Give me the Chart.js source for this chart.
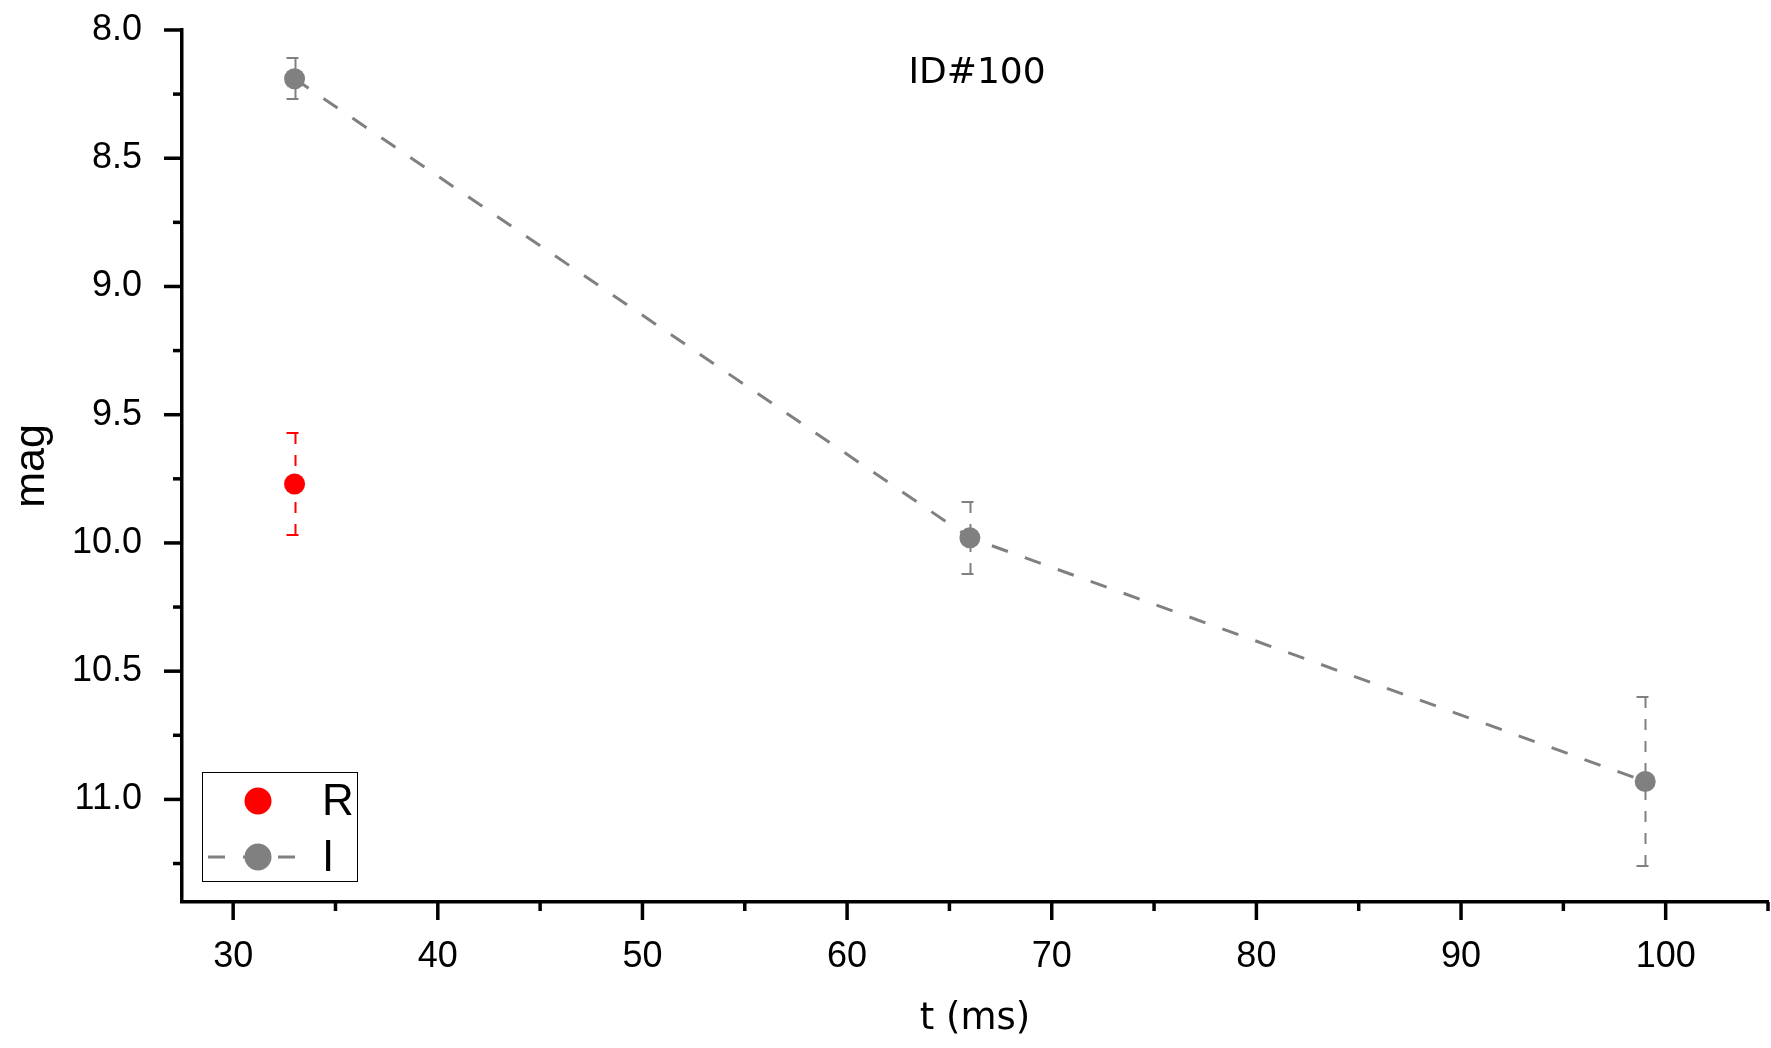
<!DOCTYPE html>
<html>
<head>
<meta charset="utf-8">
<script src="https://cdn.jsdelivr.net/npm/chart.js@4.4.0/dist/chart.umd.min.js"></script>
<style>
html, body { margin: 0; padding: 0; background: #fff; overflow: hidden; }
#wrap { width: 1771px; height: 1048px; position: relative; }
#myChart { display: block; }
</style>
</head>
<body>
<div id="wrap"><canvas id="myChart"></canvas></div>
<script>
// data
var tR = [33];
var magR = [9.77];
var errR = [0.20];

var tI = [33, 66, 99];
var magI = [8.19, 9.98, 10.93];
var errI = [0.08, 0.14, 0.33];

var xMajor = [30, 40, 50, 60, 70, 80, 90, 100];
var xMinor = [35, 45, 55, 65, 75, 85, 95, 105];
var yMajor = [8.0, 8.5, 9.0, 9.5, 10.0, 10.5, 11.0];
var yMinor = [8.25, 8.75, 9.25, 9.75, 10.25, 10.75, 11.25];

var ARIAL = "'Liberation Sans', Arial, sans-serif";
var WIDE = "'DejaVu Sans', Verdana, sans-serif";

function toPoints(xs, ys) {
    return xs.map((x, i) => ({ x: x, y: ys[i] }));
}

// dashed error bars with small caps, drawn under the markers
var errorBars = {
    id: 'errorBars',
    beforeDatasetsDraw(chart) {
        var ctx = chart.ctx;
        var xs = chart.scales.x, ys = chart.scales.y;
        chart.data.datasets.forEach(function (ds) {
            ctx.save();
            ctx.strokeStyle = ds.borderColor;
            ctx.lineWidth = 2;
            ds.data.forEach(function (p, i) {
                var e = ds.errors[i];
                var px = Math.round(xs.getPixelForValue(p.x)) + 0.5;
                var py = ys.getPixelForValue(p.y);
                [p.y - e, p.y + e].forEach(function (v) {
                    var ey = Math.round(ys.getPixelForValue(v));
                    ctx.setLineDash([11, 11]);
                    ctx.beginPath();
                    ctx.moveTo(px, ey);
                    ctx.lineTo(px, py);
                    ctx.stroke();
                    ctx.setLineDash([]);
                    ctx.beginPath();
                    ctx.moveTo(px - 9, ey);
                    ctx.lineTo(px + 3, ey);
                    ctx.stroke();
                });
            });
            ctx.restore();
        });
    }
};

// outward major / minor tick marks
var axisTicks = {
    id: 'axisTicks',
    afterDraw(chart) {
        var ctx = chart.ctx;
        var a = chart.chartArea;
        var xs = chart.scales.x, ys = chart.scales.y;
        ctx.save();
        ctx.strokeStyle = '#000';
        ctx.lineWidth = 3.5;
        xMajor.concat(xMinor).forEach(function (v) {
            var len = xMajor.indexOf(v) >= 0 ? 18 : 9;
            var px = xs.getPixelForValue(v);
            ctx.beginPath();
            ctx.moveTo(px, a.bottom);
            ctx.lineTo(px, a.bottom + len);
            ctx.stroke();
        });
        yMajor.concat(yMinor).forEach(function (v) {
            var len = yMajor.indexOf(v) >= 0 ? 18 : 9;
            var py = ys.getPixelForValue(v);
            ctx.beginPath();
            ctx.moveTo(a.left, py);
            ctx.lineTo(a.left - len, py);
            ctx.stroke();
        });
        ctx.restore();
    }
};

// plot title inside the frame + boxed legend in the lower-left corner
var insideText = {
    id: 'insideText',
    afterDraw(chart) {
        var ctx = chart.ctx;
        var a = chart.chartArea;
        ctx.save();
        ctx.fillStyle = '#000';
        ctx.font = '36px ' + WIDE;
        ctx.textAlign = 'center';
        ctx.textBaseline = 'middle';
        ctx.fillText('ID#100', (a.left + a.right) / 2 + 2, a.top + 44);

        var bx = a.left + 20, by = a.bottom - 130, bw = 155, bh = 109;
        ctx.fillStyle = '#fff';
        ctx.fillRect(bx, by, bw, bh);
        ctx.strokeStyle = '#000';
        ctx.lineWidth = 1;
        ctx.strokeRect(bx + 0.5, by + 0.5, bw, bh);

        chart.data.datasets.forEach(function (ds, i) {
            var cy = by + 29 + i * 56;
            if (ds.showLine) {
                ctx.strokeStyle = ds.borderColor;
                ctx.lineWidth = ds.borderWidth;
                ctx.setLineDash(ds.borderDash);
                ctx.beginPath();
                ctx.moveTo(bx + 6, cy);
                ctx.lineTo(bx + 108, cy);
                ctx.stroke();
                ctx.setLineDash([]);
            }
            ctx.fillStyle = ds.pointBackgroundColor;
            ctx.beginPath();
            ctx.arc(bx + 56, cy, 13.5, 0, Math.PI * 2);
            ctx.fill();
            ctx.fillStyle = '#000';
            ctx.font = '44px ' + ARIAL;
            ctx.textAlign = 'left';
            ctx.fillText(ds.label, bx + 120, cy + 2);
        });
        ctx.restore();
    }
};

var ctx = document.getElementById('myChart').getContext('2d');

var myChart = new Chart(ctx, {
    type: 'scatter',
    data: {
        datasets: [{
            label: 'R',
            data: toPoints(tR, magR),
            errors: errR,
            showLine: false,
            borderColor: '#ff0000',
            pointBackgroundColor: '#ff0000',
            pointBorderWidth: 0,
            pointRadius: 10.5
        }, {
            label: 'I',
            data: toPoints(tI, magI),
            errors: errI,
            showLine: true,
            borderColor: '#808080',
            borderWidth: 3,
            borderDash: [17, 18],
            pointBackgroundColor: '#808080',
            pointBorderWidth: 0,
            pointRadius: 10.5
        }]
    },
    options: {
        responsive: true,
        maintainAspectRatio: false,
        animation: false,
        layout: { autoPadding: false, padding: { top: 30, right: 3, left: 0, bottom: 0 } },
        plugins: {
            legend: { display: false },
            tooltip: { enabled: false }
        },
        scales: {
            x: {
                type: 'linear',
                min: 27.5,
                max: 105,
                grid: { display: false },
                border: { display: true, color: '#000', width: 3.5 },
                afterBuildTicks: function (scale) {
                    scale.ticks = xMajor.map(v => ({ value: v }));
                },
                afterFit: function (scale) {
                    scale.height = 146;
                    scale.paddingLeft = 0;
                    scale.paddingRight = 0;
                },
                ticks: {
                    color: '#000',
                    font: { family: ARIAL, size: 36 },
                    padding: 25,
                    maxRotation: 0,
                    autoSkip: false
                },
                title: {
                    display: true,
                    text: 't (ms)',
                    color: '#000',
                    font: { family: WIDE, size: 37 },
                    padding: { top: 0, bottom: 6 }
                }
            },
            y: {
                type: 'linear',
                reverse: true,
                min: 8.0,
                max: 11.4,
                grid: { display: false },
                border: { display: true, color: '#000', width: 3.5 },
                afterBuildTicks: function (scale) {
                    scale.ticks = yMajor.map(v => ({ value: v }));
                },
                afterFit: function (scale) {
                    scale.width = 182;
                    scale.paddingTop = 0;
                    scale.paddingBottom = 0;
                },
                ticks: {
                    color: '#000',
                    font: { family: ARIAL, size: 36 },
                    padding: 32,
                    autoSkip: false,
                    callback: function (v) { return Number(v).toFixed(1); }
                },
                title: {
                    display: true,
                    text: 'mag',
                    color: '#000',
                    font: { family: ARIAL, size: 43 },
                    padding: { top: 6, bottom: 0 }
                }
            }
        }
    },
    plugins: [errorBars, axisTicks, insideText]
});
</script>
</body>
</html>
